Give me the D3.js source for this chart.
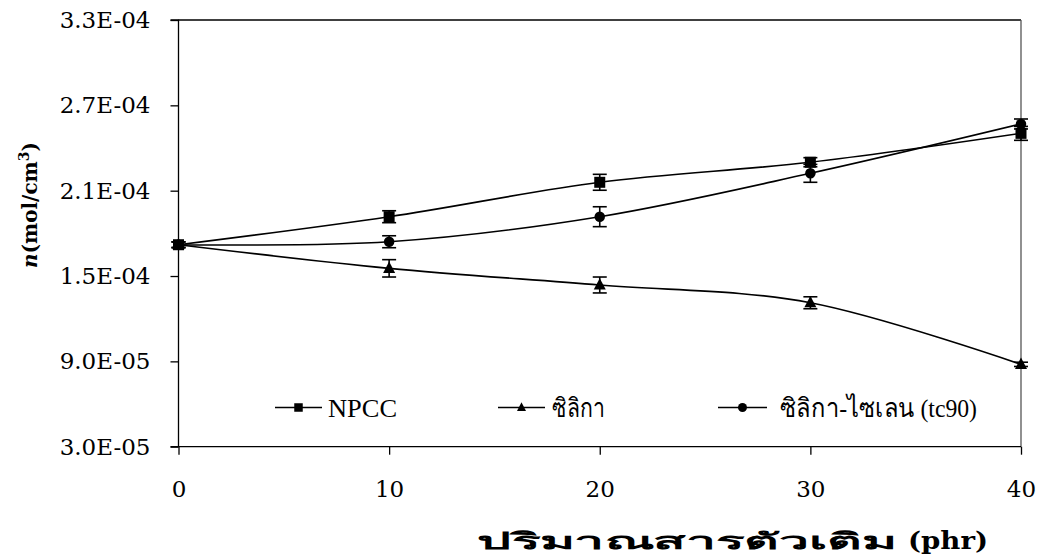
<!DOCTYPE html>
<html><head><meta charset="utf-8">
<script src="https://cdn.jsdelivr.net/npm/d3@7"></script>
<style>
html,body{margin:0;padding:0;background:#fff;}
svg{display:block;}
</style></head>
<body>
<svg id="chart" width="1039" height="557"></svg>
<script>
// ---- data ----
const xValues = [0, 10, 20, 30, 40];
const seriesNames = ["NPCC", "ซิลิกา", "ซิลิกา-ไซเลน (tc90)"];
const npccValues   = [1.72e-4, 1.917e-4, 2.159e-4, 2.300e-4, 2.503e-4];
const npccErrors   = [2.0e-6, 4.2e-6, 5.6e-6, 3.2e-6, 4.9e-6];
const silicaValues = [1.72e-4, 1.554e-4, 1.437e-4, 1.312e-4, 8.79e-5];
const silicaErrors = [2.0e-6, 6.1e-6, 5.6e-6, 4.2e-6, 1.5e-6];
const silaneValues = [1.72e-4, 1.741e-4, 1.917e-4, 2.222e-4, 2.569e-4];
const silaneErrors = [2.0e-6, 4.2e-6, 7.0e-6, 6.3e-6, 3.5e-6];
const yTicks = [3.0e-5, 9.0e-5, 1.5e-4, 2.1e-4, 2.7e-4, 3.3e-4];
const xTicks = [0, 10, 20, 30, 40];
const xTitleThai = "ปริมาณสารตัวเติม";
const xTitleUnit = "(phr)";

// ---- layout ----
const svg = d3.select("#chart");
const L = 178.5, R = 1021, T = 20, B = 446.7;
const x = d3.scaleLinear().domain([0, 40]).range([L, R]);
const y = d3.scaleLinear().domain([3.0e-5, 3.3e-4]).range([B, T]);

function fmtE(v) {
  const s = v.toExponential(1).toUpperCase(); // e.g. 3.0E-5
  const m = s.match(/^(.*)E([+-])(\d+)$/);
  return m[1] + "E" + m[2] + m[3].padStart(2, "0");
}

const tickFont = "'DejaVu Serif', serif";

// frame: top and right
svg.append("line").attr("x1", L).attr("x2", R).attr("y1", T).attr("y2", T)
  .attr("stroke", "#000").attr("stroke-width", 1.3);
svg.append("line").attr("x1", R).attr("x2", R).attr("y1", T).attr("y2", B)
  .attr("stroke", "#555").attr("stroke-width", 1.3);

// axes
const yAxis = d3.axisLeft(y).tickValues(yTicks).tickFormat(fmtE).tickSize(8).tickPadding(20);
const gy = svg.append("g").attr("transform", `translate(${L},0)`).call(yAxis);
const xAxis = d3.axisBottom(x).tickValues(xTicks).tickFormat(d3.format("d")).tickSize(8).tickPadding(26);
const gx = svg.append("g").attr("transform", `translate(0,${B})`).call(xAxis);
[gy, gx].forEach(g => {
  g.attr("font-size", null).attr("font-family", null);
  g.select(".domain").attr("stroke", "#000").attr("stroke-width", 1.3);
  g.selectAll(".tick line").attr("stroke", "#000").attr("stroke-width", 1.3);
  g.selectAll(".tick text").attr("fill", "#000").style("font-family", tickFont).style("font-size", "23px");
});
gy.select(".domain").attr("d", `M-8,${T}H0V${B}H-8`);
gx.select(".domain").attr("d", `M${L},0H${R}`);

// axis titles
const yt = svg.append("text")
  .attr("transform", "translate(37,205) rotate(-90)")
  .attr("text-anchor", "middle")
  .style("font-family", tickFont).style("font-weight", "bold").style("font-size", "20px");
yt.append("tspan").style("font-style", "italic").text("n");
yt.append("tspan").text("(mol/cm");
yt.append("tspan").attr("dy", -8).style("font-size", "14px").text("3");
yt.append("tspan").attr("dy", 8).text(")");

const xt = svg.append("text").attr("x", 477).attr("y", 549)
  .style("font-weight", "bold").attr("fill", "#000");
xt.append("tspan").style("font-family", "'Liberation Serif', serif").style("font-size", "23px")
  .attr("textLength", 420).attr("lengthAdjust", "spacingAndGlyphs").text(xTitleThai);
xt.append("tspan").attr("x", 908).style("font-family", "'DejaVu Serif', serif").style("font-size", "24px")
  .attr("textLength", 80).attr("lengthAdjust", "spacingAndGlyphs").text(xTitleUnit);

// ---- series ----
const series = [
  {name: seriesNames[0], values: npccValues, errors: npccErrors, marker: "square"},
  {name: seriesNames[1], values: silicaValues, errors: silicaErrors, marker: "triangle"},
  {name: seriesNames[2], values: silaneValues, errors: silaneErrors, marker: "circle"}
];

const line = d3.line().x(d => x(d.x)).y(d => y(d.v)).curve(d3.curveCardinal.tension(0));

function drawMarker(g, type, cx, cy, s) {
  if (type === "square") {
    g.append("rect").attr("x", cx - s / 2).attr("y", cy - s / 2).attr("width", s).attr("height", s).attr("fill", "#000");
  } else if (type === "circle") {
    g.append("circle").attr("cx", cx).attr("cy", cy).attr("r", s / 2).attr("fill", "#000");
  } else {
    const h = s * 0.95;
    g.append("path").attr("d", `M${cx},${cy - h * 0.6}L${cx + s / 2},${cy + h * 0.4}L${cx - s / 2},${cy + h * 0.4}Z`).attr("fill", "#000");
  }
}

const plot = svg.append("g");
series.forEach(s => {
  const pts = xValues.map((xv, i) => ({x: xv, v: s.values[i], e: s.errors[i]}));
  plot.append("path").attr("d", line(pts)).attr("fill", "none").attr("stroke", "#000").attr("stroke-width", 1.6);
  s.pts = pts;
});
series.forEach(s => {
  const g = plot.append("g");
  s.pts.forEach(p => {
    const cx = x(p.x), y1 = y(p.v + p.e), y2 = y(p.v - p.e);
    g.append("line").attr("x1", cx).attr("x2", cx).attr("y1", y1).attr("y2", y2).attr("stroke", "#000").attr("stroke-width", 1.6);
    g.append("line").attr("x1", cx - 7).attr("x2", cx + 7).attr("y1", y1).attr("y2", y1).attr("stroke", "#000").attr("stroke-width", 1.6);
    g.append("line").attr("x1", cx - 7).attr("x2", cx + 7).attr("y1", y2).attr("y2", y2).attr("stroke", "#000").attr("stroke-width", 1.6);
    const size = s.marker === "square" ? 11 : (s.marker === "circle" ? 10.5 : 12);
    drawMarker(g, s.marker, cx, y(p.v), size);
  });
});

// ---- legend ----
const legendItems = [
  {x0: 275, x1: 322, tx: 328, w: 69},
  {x0: 498, x1: 545, tx: 552, w: 53},
  {x0: 718, x1: 767, tx: 780, w: 197}
];
const ly = 407.5;
series.forEach((s, i) => {
  const it = legendItems[i];
  const g = svg.append("g");
  g.append("line").attr("x1", it.x0).attr("x2", it.x1).attr("y1", ly).attr("y2", ly).attr("stroke", "#000").attr("stroke-width", 1.6);
  drawMarker(g, s.marker, (it.x0 + it.x1) / 2, ly, s.marker === "square" ? 8.5 : 9);
  g.append("text").attr("x", it.tx).attr("y", ly + 9).text(s.name)
    .attr("textLength", it.w).attr("lengthAdjust", "spacingAndGlyphs")
    .style("font-family", "'Liberation Serif', serif").style("font-size", "26px").attr("fill", "#000");
});
</script>
</body></html>
